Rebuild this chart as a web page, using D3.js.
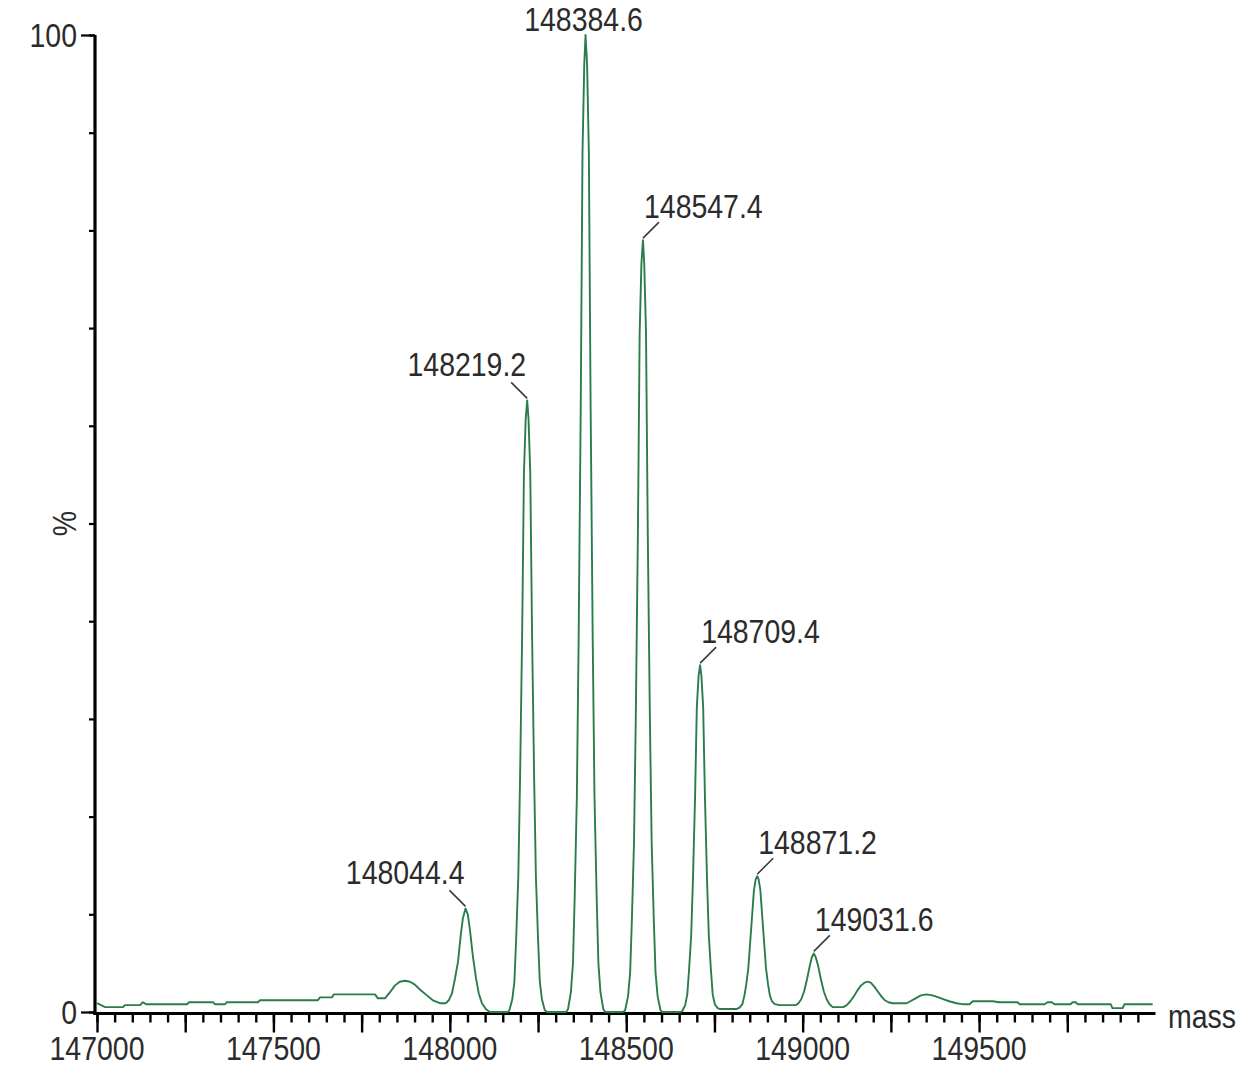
<!DOCTYPE html>
<html><head><meta charset="utf-8">
<script src="https://cdn.jsdelivr.net/npm/d3@7"></script>
<style>body{margin:0;background:#fff}svg{display:block}</style>
</head><body>
<svg id="chart" width="1258" height="1067"></svg>
<script>
// ---------- data ----------
const xDomain = [147000, 150000];
const yDomain = [0, 100];
const xLabelTicks = [147000, 147500, 148000, 148500, 149000, 149500];
const yLabelTicks = [0, 100];
const xAxisTitle = "mass";
const yAxisTitle = "%";
const peakMasses = [148044.4, 148219.2, 148384.6, 148547.4, 148709.4, 148871.2, 149031.6];
const peakIntensities = [10.6, 62.6, 100, 79.0, 35.5, 13.9, 6.0];
const peakTexts = ["148044.4", "148219.2", "148384.6", "148547.4", "148709.4", "148871.2", "149031.6"];
// deconvoluted profile: [mass, % intensity]
const spectrum = [
[147000,0.9],[147023,0.5],[147074,0.5],[147079,0.7],[147122,0.7],[147130,1.0],[147139,0.8],[147255,0.8],[147261,1.0],[147329,1.0],[147334,0.8],[147363,0.8],[147368,1.0],[147456,1.0],[147462,1.2],[147626,1.2],[147632,1.5],[147666,1.5],[147671,1.8],[147788,1.8],[147796,1.4],[147816,1.4],[147830,2.0],[147844,2.7],[147858,3.1],[147873,3.2],[147887,3.1],[147901,2.8],[147915,2.3],[147935,1.7],[147952,1.2],[147972,0.9],[147989,0.9],
[147997,1.2],[148006,1.9],[148014,3.3],[148023,5.1],[148031,7.9],[148037,9.6],[148044.4,10.6],[148051,10.0],[148057,8.4],[148065,5.8],[148074,3.5],[148082,1.9],[148091,0.9],[148102,0.3],[148113,0],[148165,0],
[148169,0.2],[148177,1.3],[148183,3.1],[148188,7.5],[148194,13.8],[148199,23.8],[148205,38.8],[148210,55.1],[148215,60.7],[148219.2,62.6],[148223,60.7],[148228,55.1],[148233,38.8],[148239,23.8],[148244,13.8],[148250,7.5],[148255,3.1],[148261,1.3],[148269,0.2],[148275,0],[148330,0],
[148335,0.3],[148343,2],[148349,5],[148354,12],[148360,22],[148365,38],[148371,62],[148376,88],[148381,97],[148384.6,100],[148389,97],[148394,88],[148399,62],[148405,38],[148410,22],[148416,12],[148421,5],[148427,2],[148435,0.3],[148440,0],[148492,0],
[148497,0.2],[148505,1.6],[148511,4.0],[148516,9.5],[148522,17.4],[148527,30],[148533,49],[148538,69.5],[148543,76.6],[148547.4,79],[148551,76.6],[148556,69.5],[148561,49],[148567,30],[148572,17.4],[148578,9.5],[148583,4.0],[148589,1.6],[148597,0.2],[148602,0],[148654,0],
[148659,0.1],[148667,0.7],[148673,1.8],[148678,4.3],[148684,7.8],[148689,13.5],[148695,22],[148700,31.2],[148705,34.4],[148709.4,35.5],[148713,34.4],[148718,31.2],[148723,22],[148729,13.5],[148734,7.8],[148740,4.3],[148745,1.8],[148751,0.8],[148759,0.4],[148766,0.3],[148812,0.3],
[148821,0.45],[148829,0.8],[148835,1.7],[148840,2.8],[148846,4.5],[148851,7.0],[148857,10.0],[148862,12.5],[148867,13.6],[148871.2,13.9],[148875,13.6],[148880,12.5],[148885,10.0],[148891,7.0],[148896,4.5],[148902,2.8],[148907,1.7],[148913,1.1],[148921,0.8],[148935,0.7],[148980,0.7],
[148988,0.9],[148996,1.3],[149004,2.1],[149012,3.3],[149020,4.7],[149026,5.6],[149031.6,6.0],[149037,5.6],[149044,4.7],[149052,3.3],[149060,2.1],[149068,1.3],[149076,0.8],[149085,0.5],[149115,0.5],
[149125,0.7],[149135,1.1],[149145,1.6],[149155,2.2],[149165,2.7],[149175,3.0],[149184,3.1],[149193,3.0],[149203,2.6],[149213,2.1],[149223,1.6],[149233,1.2],[149243,1.0],[149255,0.9],[149295,0.9],
[149305,1.1],[149320,1.4],[149335,1.7],[149352,1.8],[149368,1.7],[149385,1.5],[149400,1.3],[149415,1.1],[149436,0.9],
[149453,0.8],[149473,0.8],[149482,1.1],[149538,1.1],[149558,1.0],[149609,1.0],[149615,0.8],[149686,0.8],[149694,1.0],[149706,1.0],[149714,0.8],[149759,0.8],[149765,1.0],[149774,1.0],[149779,0.8],[149873,0.8],[149878,0.4],[149907,0.4],[149912,0.8],[149992,0.8]
];

// ---------- layout ----------
const svg = d3.select("#chart");
const X0 = 97, X1 = 1155.5, Y0 = 1012, Y1 = 35;
const x = d3.scaleLinear().domain(xDomain).range([X0, X1]);
const y = d3.scaleLinear().domain(yDomain).range([Y0, Y1]);
const FONT = "'Liberation Sans Narrow','Arial Narrow','Liberation Sans',Arial,sans-serif";
const FS = 34;
const TXT = "#2b2b2b";

// detect narrow font availability
const probe = svg.append("text").attr("font-family", FONT).attr("font-size", FS).text("147000");
const probeW = probe.node().getComputedTextLength();
probe.remove();
const sx = probeW > 0 ? Math.min(1, 95 / probeW) : 1;

function label(g, tx, ty, str, anchor, rot) {
  const t = g.append("text")
    .attr("transform", `translate(${tx},${ty})` + (rot ? ` rotate(${rot})` : "") + (sx < 0.99 ? ` scale(${sx},1)` : ""))
    .attr("font-family", FONT).attr("font-size", FS).attr("fill", TXT)
    .attr("text-anchor", anchor).text(str);
  return t;
}

// x axis (ticks every 50, long ticks every 250)
const minor = d3.range(xDomain[0], xDomain[1], 50);
const major = d3.range(xDomain[0], xDomain[1], 250);
svg.append("g").attr("transform", `translate(0,${Y0 + 1.5})`)
  .call(d3.axisBottom(x).tickValues(minor).tickSize(9).tickFormat("").tickSizeOuter(0))
  .call(g => g.select(".domain").remove())
  .call(g => g.selectAll(".tick line").attr("stroke", "#000").attr("stroke-width", 2.4));
svg.append("g").attr("transform", `translate(0,${Y0 + 1.5})`)
  .call(d3.axisBottom(x).tickValues(major).tickSize(19).tickFormat("").tickSizeOuter(0))
  .call(g => g.select(".domain").remove())
  .call(g => g.selectAll(".tick line").attr("stroke", "#000").attr("stroke-width", 2.4));
svg.append("line").attr("x1", X0 - 3.5).attr("x2", X1).attr("y1", Y0 + 1.5).attr("y2", Y0 + 1.5)
  .attr("stroke", "#000").attr("stroke-width", 3.2);
xLabelTicks.forEach(v => label(svg, x(v), 1059.5, String(v), "middle"));
label(svg, 1168, 1028, xAxisTitle, "start");

// y axis
svg.append("g").attr("transform", `translate(${X0 - 2},0)`)
  .call(d3.axisLeft(y).tickValues(d3.range(0, 101, 10)).tickSize(6).tickFormat("").tickSizeOuter(0))
  .call(g => g.select(".domain").remove())
  .call(g => g.selectAll(".tick line").attr("stroke", "#000").attr("stroke-width", 2.2));
svg.append("g").attr("transform", `translate(${X0 - 2},0)`)
  .call(d3.axisLeft(y).tickValues(yLabelTicks).tickSize(14).tickFormat("").tickSizeOuter(0))
  .call(g => g.select(".domain").remove())
  .call(g => g.selectAll(".tick line").attr("stroke", "#000").attr("stroke-width", 2.2));
svg.append("line").attr("x1", X0 - 2).attr("x2", X0 - 2).attr("y1", Y1).attr("y2", Y0 + 3)
  .attr("stroke", "#000").attr("stroke-width", 3.2);
yLabelTicks.forEach(v => label(svg, 77, y(v) + 12, String(v), "end"));
label(svg, 76, y(50), yAxisTitle, "middle", -90);

// spectrum
const line = d3.line().x(d => x(d[0])).y(d => y(d[1]));
svg.append("path").datum(spectrum).attr("d", line)
  .attr("fill", "none").attr("stroke", "#2a7d4a").attr("stroke-width", 1.9)
  .attr("stroke-linejoin", "round");

// peak labels
const topIdx = peakIntensities.indexOf(d3.max(peakIntensities));
peakMasses.forEach((m, i) => {
  const px = x(m), py = y(peakIntensities[i]);
  if (i === topIdx) {
    label(svg, px - 2, py - 4, peakTexts[i], "middle");
    return;
  }
  const dir = m < peakMasses[topIdx] ? -1 : 1;
  svg.append("line").attr("x1", px).attr("y1", py - 2).attr("x2", px + dir * 16).attr("y2", py - 18)
    .attr("stroke", "#3a3a3a").attr("stroke-width", 1.6);
  if (dir < 0) label(svg, px - 1, py - 24, peakTexts[i], "end");
  else label(svg, px + 1, py - 22, peakTexts[i], "start");
});
</script>
</body></html>
